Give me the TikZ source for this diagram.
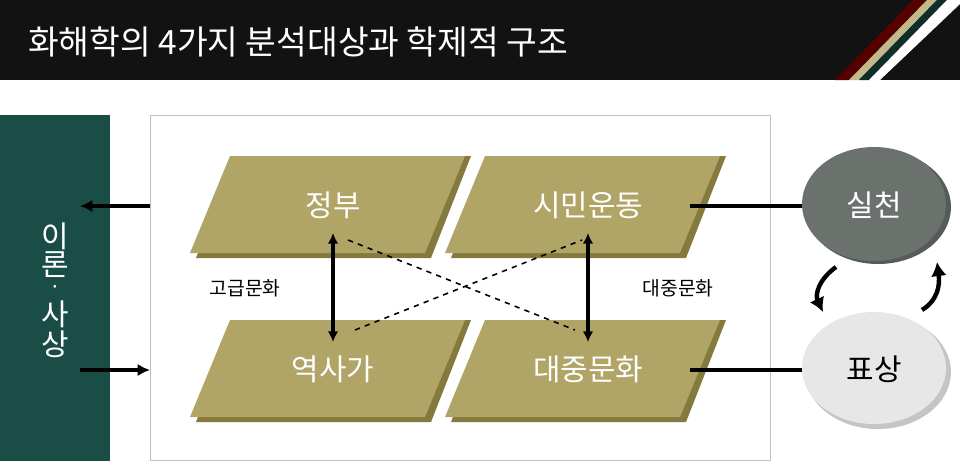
\documentclass[tikz,border=0pt]{standalone}
\usepackage{fontspec}
\setmainfont{Noto Sans CJK KR}
\usetikzlibrary{arrows.meta,calc}
\definecolor{olive}{HTML}{B0A466}
\definecolor{oliveshade}{HTML}{857A3E}
\definecolor{teal}{HTML}{1B4D47}
\definecolor{darkred}{HTML}{560000}
\definecolor{tan}{HTML}{C2B98A}
\definecolor{darkteal}{HTML}{0F2E29}
\definecolor{stone}{HTML}{6B726D}
\definecolor{stoneshade}{HTML}{555B57}
\definecolor{mist}{HTML}{E6E7E6}
\definecolor{mistshade}{HTML}{C4C6C4}
\tikzset{
  box/.style={fill=olive},
  boxshade/.style={fill=oliveshade},
  boxtext/.style={text=white,font=\fontsize{17}{18}\selectfont},
  sidetext/.style={font=\fontsize{11}{12}\selectfont},
  bartext/.style={text=white,inner sep=0pt,font=\fontsize{17}{18}\selectfont},
  link/.style={line width=2pt},
}
\begin{document}
\begin{tikzpicture}[x=0.02cm,y=-0.02cm,line join=round]
                \useasboundingbox (0,0) rectangle (960,461);
                % header
                \fill [black!93] (0,0) rectangle (960,80);
                \fill [darkred] (835,80)-- (913,0)-- (927,0)-- (849,80)-- cycle;
                \fill [tan] (849,80)-- (927,0)-- (937,0)-- (859,80)-- cycle;
                \fill [darkteal] (859,80)-- (937,0)-- (947,0)-- (869,80)-- cycle;
                \fill [white] (869,80)-- (947,0)-- (960,0)-- (960,4)-- (880,80)-- cycle;
                \node [anchor=west,text=white,font=\fontsize{19}{20}\selectfont] (title) at (22,42) {화해학의 4가지 분석대상과 학제적 구조};
                % left bar
                \fill [teal] (0,115) rectangle (110,461);
                \node [bartext] (t1) at (55,236) {이};
                \node [bartext] (t2) at (55,265) {론};
                \node [bartext,font=\fontsize{12}{12}\selectfont] (t3) at (55,290) {·};
                \node [bartext] (t4) at (55,314) {사};
                \node [bartext] (t5) at (55,344) {상};
                % frame
                \draw [black!25,fill=white] (150,115) rectangle (770,460);
                \coordinate (outL) at (150,206);
                \coordinate (outE) at (80,206);
                \coordinate (inS) at (80,370);
                \coordinate (inL) at (150,370);
                \draw [link,-{Latex[length=7pt,width=7pt]}] (outL)-- (outE);
                \draw [link,-{Latex[length=7pt,width=7pt]}] (inS)-- (inL);
                % parallelograms
                \foreach \x/\y in {0/0,255/0,0/164,255/164}{
                    \fill [boxshade] (\x+236,\y+156)-- (\x+471,\y+156)-- (\x+431,\y+258)-- (\x+196,\y+258)-- cycle;
                    \fill [box] (\x+230,\y+156)-- (\x+465,\y+156)-- (\x+425,\y+253)-- (\x+190,\y+253)-- cycle;
                }
                \node [boxtext] (gov) at (333,205) {정부};
                \node [boxtext] (civ) at (588,205) {시민운동};
                \node [boxtext] (hist) at (333,369) {역사가};
                \node [boxtext] (pop) at (588,369) {대중문화};
                \node [sidetext] (high) at (245,288) {고급문화};
                \node [sidetext] (mass) at (678,288) {대중문화};
                \draw [link,{Latex[length=6pt,width=6pt]}-{Latex[length=6pt,width=6pt]}] (333,233)-- (333,342);
                \draw [link,{Latex[length=6pt,width=6pt]}-{Latex[length=6pt,width=6pt]}] (588,233)-- (588,342);
                \draw [line width=0.9pt,dashed] (348,240)-- (575,330);
                \draw [line width=0.9pt,dashed] (355,330)-- (582,240);
                % ellipses
                \fill [stoneshade] (878,207) ellipse (73 and 57);
                \fill [stone] (874,204) ellipse (72 and 57);
                \node [text=white,font=\fontsize{17}{18}\selectfont] (prax) at (874,205) {실천};
                \fill [mistshade] (878,372) ellipse (73 and 57);
                \fill [mist] (874,368) ellipse (72 and 56);
                \node [font=\fontsize{17}{18}\selectfont] (repr) at (874,369) {표상};
                \draw [link] (690,206)-- (802,206);
                \draw [link] (690,370)-- (802,370);
                \draw [line width=2.5pt,-{Latex[length=8pt,width=9pt]}] (836,267) .. controls (818,280) and (815,295) .. (823,312);
                \draw [line width=2.5pt,-{Latex[length=8pt,width=9pt]}] (922,310) .. controls (938,300) and (940,285) .. (937,262);
\end{tikzpicture}
\end{document}
